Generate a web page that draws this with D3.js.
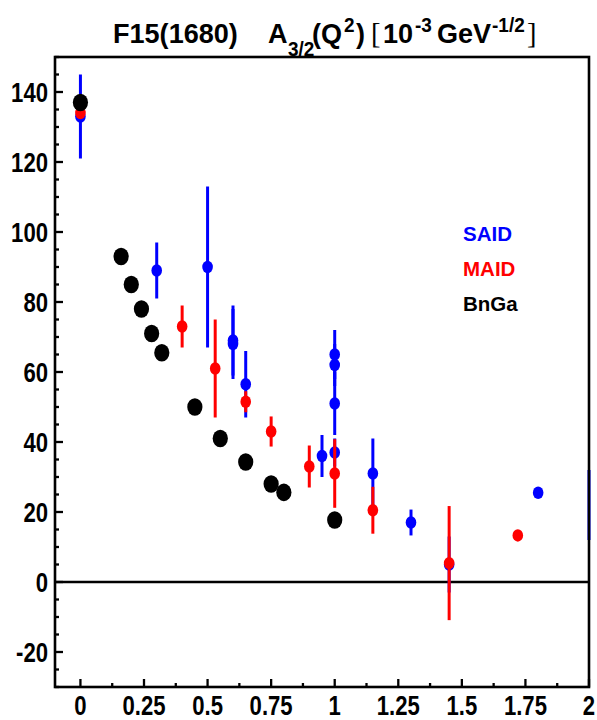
<!DOCTYPE html>
<html><head><meta charset="utf-8">
<script src="https://cdn.jsdelivr.net/npm/d3@7/dist/d3.min.js"></script>
<style>body{margin:0;background:#fff}svg{display:block}</style>
</head><body>
<svg id="c" width="597" height="720"></svg>
<script>
// ---- data ----
const saidQ2  = [0, 0.3, 0.5, 0.6, 0.6, 0.65, 0.95, 1.0, 1.0, 1.0, 1.0, 1.15, 1.3, 1.45, 1.8];
const saidA   = [133, 89, 90, 69, 68, 56.5, 36, 65, 62, 51, 37, 31, 17, 5, 25.5];
const saidErr = [12, 8, 23, 10, 10, 9.5, 6, 7, 6, 9, 4, 10, 3.7, 8, 1.5];
// SAID point at the right edge: only its error bar is visible
const saidEdgeQ2 = [2.0];
const saidEdgeA = [22];
const saidEdgeErr = [10];

const maidQ2  = [0, 0.4, 0.53, 0.65, 0.75, 0.9, 1.0, 1.15, 1.45, 1.72];
const maidA   = [134, 73, 61, 51.5, 43, 33, 31, 20.5, 5.4, 13.3];
const maidErr = [0, 6, 14, 3, 4.3, 6, 9.8, 6.7, 16.3, 0];

const bngaQ2 = [0, 0.16, 0.2, 0.24, 0.28, 0.32, 0.45, 0.55, 0.65, 0.75, 0.8, 1.0];
const bngaA  = [137, 93, 85, 78, 71, 65.5, 50, 41, 34.3, 28, 25.6, 17.7];

const xTicks = [0, 0.25, 0.5, 0.75, 1, 1.25, 1.5, 1.75, 2];
const xTickLabels = ["0", "0.25", "0.5", "0.75", "1", "1.25", "1.5", "1.75", "2"];
const yTicks = [-20, 0, 20, 40, 60, 80, 100, 120, 140];
const legendNames = ["SAID", "MAID", "BnGa"];
const legendColors = ["#0000ff", "#ff0000", "#000000"];

// ---- layout ----
const L = 55, R = 589, T = 57, B = 687;
const x = d3.scaleLinear().domain([-0.1, 2]).range([L, R]);
const y = d3.scaleLinear().domain([-30, 150]).range([B, T]);
const svg = d3.select("#c");
const FONT = "'Liberation Sans', Arial, Helvetica, sans-serif";
const SX = 0.82; // horizontal condensation of axis labels

// zero line
svg.append("line").attr("x1", L).attr("x2", R).attr("y1", y(0)).attr("y2", y(0))
  .attr("stroke", "#000").attr("stroke-width", 2.5);

// data drawing
function errBars(q, a, e, color) {
  svg.append("g").selectAll("line").data(q.map((d, i) => i).filter(i => e[i] > 0)).join("line")
    .attr("x1", i => x(q[i])).attr("x2", i => x(q[i]))
    .attr("y1", i => y(a[i] + e[i])).attr("y2", i => y(a[i] - e[i]))
    .attr("stroke", color).attr("stroke-width", 3);
}
function markers(q, a, color, rx, ry) {
  svg.append("g").selectAll("ellipse").data(q.map((d, i) => i)).join("ellipse")
    .attr("cx", i => x(q[i])).attr("cy", i => y(a[i]))
    .attr("rx", rx).attr("ry", ry).attr("fill", color);
}
errBars(saidQ2, saidA, saidErr, "#0000ff");
errBars(saidEdgeQ2, saidEdgeA, saidEdgeErr, "#0000ff");
markers(saidQ2, saidA, "#0000ff", 5.3, 6.2);
errBars(maidQ2, maidA, maidErr, "#ff0000");
markers(maidQ2, maidA, "#ff0000", 5.3, 6.2);
markers(bngaQ2, bngaA, "#000000", 7.6, 8.8);

// frame
svg.append("rect").attr("x", L).attr("y", T).attr("width", R - L).attr("height", B - T)
  .attr("fill", "none").attr("stroke", "#000").attr("stroke-width", 2.6);

// x ticks
const xMinor = d3.range(0, 2.0001, 0.125).filter(v => Math.abs(v / 0.25 - Math.round(v / 0.25)) > 1e-6);
const gx = svg.append("g").attr("stroke", "#000").attr("stroke-width", 2.3);
gx.selectAll(".mj").data(xTicks).join("line").attr("x1", d => x(d)).attr("x2", d => x(d))
  .attr("y1", B).attr("y2", B - 8);
gx.selectAll(".mn").data(xMinor).join("line").attr("x1", d => x(d)).attr("x2", d => x(d))
  .attr("y1", B).attr("y2", B - 4);
svg.append("g").selectAll("text").data(xTicks).join("text")
  .attr("transform", d => `translate(${x(d)},715) scale(${SX},1)`).attr("text-anchor", "middle")
  .attr("font-family", FONT).attr("font-weight", "bold").attr("font-size", 27)
  .text((d, i) => xTickLabels[i]);

// y ticks
const yMinor = d3.range(-30, 150.001, 5).filter(v => v % 20 !== 0);
const gy = svg.append("g").attr("stroke", "#000").attr("stroke-width", 2.3);
gy.selectAll(".mj").data(yTicks).join("line").attr("x1", L).attr("x2", L + 8)
  .attr("y1", d => y(d)).attr("y2", d => y(d));
gy.selectAll(".mn").data(yMinor).join("line").attr("x1", L).attr("x2", L + 4)
  .attr("y1", d => y(d)).attr("y2", d => y(d));
svg.append("g").selectAll("text").data(yTicks).join("text")
  .attr("transform", d => `translate(48,${y(d) + 10}) scale(${SX},1)`).attr("text-anchor", "end")
  .attr("font-family", FONT).attr("font-weight", "bold").attr("font-size", 27)
  .text(d => d);

// legend
svg.append("g").selectAll("text").data(legendNames).join("text")
  .attr("x", 463).attr("y", (d, i) => [241, 276, 311][i])
  .attr("font-family", FONT).attr("font-weight", "bold").attr("font-size", 20.5)
  .attr("fill", (d, i) => legendColors[i]).text(d => d);

// title
const TS = 0.95;
const tg = svg.append("g").attr("transform", `scale(${TS},1)`);
const tt = tg.append("text").attr("font-family", FONT).attr("font-weight", "bold").attr("font-size", 28.5);
const parts = [
  {t: "F15(1680)", x: 113, y: 43},
  {t: "A", x: 268, y: 43},
  {t: "3/2", x: 288, y: 56, fs: 20},
  {t: "(Q", x: 312, y: 43},
  {t: "2", x: 344, y: 32, fs: 20},
  {t: ")", x: 356, y: 43},
  {t: "[", x: 371, y: 43, serif: true},
  {t: "10", x: 383, y: 43},
  {t: "-3", x: 415, y: 32, fs: 20},
  {t: "GeV", x: 437, y: 43},
  {t: "-1/2", x: 492, y: 32, fs: 20},
  {t: "]", x: 527, y: 43, serif: true}
];
parts.forEach(p => {
  const s = tt.append("tspan").text(p.t).attr("x", p.x / TS).attr("y", p.y);
  if (p.fs) s.attr("font-size", p.fs);
  if (p.serif) s.attr("font-family", "'Liberation Serif', 'Times New Roman', serif").attr("font-weight", "normal").attr("font-size", 30);
});
</script>
</body></html>
